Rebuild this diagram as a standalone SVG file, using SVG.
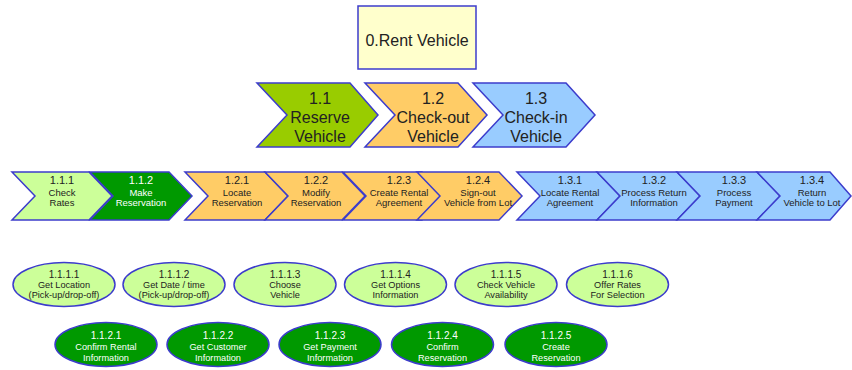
<svg xmlns="http://www.w3.org/2000/svg" width="852" height="370" viewBox="0 0 852 370">
<style>
.s{stroke:#3c3ccc;stroke-width:1.5;stroke-linejoin:miter}
.t{font-family:"Liberation Sans",Arial,sans-serif;text-anchor:middle;fill:#222}
.w{fill:#fff}
.l1{font-size:16px}
.n2{font-size:11px}
.a2{font-size:9.5px}
.n3{font-size:10px}
.a3{font-size:9.2px}
.gL{fill:#99cc00}.o{fill:#ffcc66}.b{fill:#99ccff}.lg{fill:#ccff99}.dg{fill:#009900}
</style>
<g id="n0">
<rect x="358" y="6" width="118" height="63" fill="#ffffcc" class="s"/>
<text class="t l1" x="417" y="46">0.Rent Vehicle</text>
</g>
<g id="n1_1">
<polygon class="s gL" points="257,83 350,83 378,115 350,147 257,147 287,115"/>
<text class="t l1" x="320" y="104">1.1</text><text class="t l1" x="320" y="122.5">Reserve</text><text class="t l1" x="320" y="141.5">Vehicle</text>
</g>
<g id="n1_2">
<polygon class="s o" points="365,83 458,83 487,115 458,147 365,147 395,115"/>
<text class="t l1" x="433" y="104">1.2</text><text class="t l1" x="433" y="122.5">Check-out</text><text class="t l1" x="433" y="141.5">Vehicle</text>
</g>
<g id="n1_3">
<polygon class="s b" points="473,83 566,83 595,115 566,147 473,147 503,115"/>
<text class="t l1" x="536" y="104">1.3</text><text class="t l1" x="536" y="122.5">Check-in</text><text class="t l1" x="536" y="141.5">Vehicle</text>
</g>
<g id="n1_1_1">
<polygon class="s lg" points="12,172 89,172 112,196 89,220 12,220 35,196"/>
<text class="t n2" x="62" y="184">1.1.1</text><text class="t a2" x="62" y="195.5">Check</text><text class="t a2" x="62" y="206">Rates</text>
</g>
<g id="n1_1_2">
<polygon class="s dg" points="90,172 169,172 192,196 169,220 90,220 113,196"/>
<text class="t w n2" x="141" y="184">1.1.2</text><text class="t w a2" x="141" y="195.5">Make</text><text class="t w a2" x="141" y="206">Reservation</text>
</g>
<g id="n1_2_1">
<polygon class="s o" points="185,172 265,172 288,196 265,220 185,220 208,196"/>
<text class="t n2" x="237" y="184">1.2.1</text><text class="t a2" x="237" y="195.5">Locate</text><text class="t a2" x="237" y="206">Reservation</text>
</g>
<g id="n1_2_2">
<polygon class="s o" points="265,172 342,172 365,196 342,220 265,220 288,196"/>
<text class="t n2" x="316" y="184">1.2.2</text><text class="t a2" x="316" y="195.5">Modify</text><text class="t a2" x="316" y="206">Reservation</text>
</g>
<g id="n1_2_3">
<polygon class="s o" points="343,172 422,172 445,196 422,220 343,220 366,196"/>
<text class="t n2" x="399" y="184">1.2.3</text><text class="t a2" x="399" y="195.5">Create Rental</text><text class="t a2" x="399" y="206">Agreement</text>
</g>
<g id="n1_2_4">
<polygon class="s o" points="417,172 499,172 522,196 499,220 417,220 440,196"/>
<text class="t n2" x="478" y="184">1.2.4</text><text class="t a2" x="478" y="195.5">Sign-out</text><text class="t a2" x="478" y="206">Vehicle from Lot</text>
</g>
<g id="n1_3_1">
<polygon class="s b" points="517,172 597,172 620,196 597,220 517,220 540,196"/>
<text class="t n2" x="570" y="184">1.3.1</text><text class="t a2" x="570" y="195.5">Locate Rental</text><text class="t a2" x="570" y="206">Agreement</text>
</g>
<g id="n1_3_2">
<polygon class="s b" points="597,172 677,172 700,196 677,220 597,220 620,196"/>
<text class="t n2" x="654" y="184">1.3.2</text><text class="t a2" x="654" y="195.5">Process Return</text><text class="t a2" x="654" y="206">Information</text>
</g>
<g id="n1_3_3">
<polygon class="s b" points="677,172 757,172 780,196 757,220 677,220 700,196"/>
<text class="t n2" x="734" y="184">1.3.3</text><text class="t a2" x="734" y="195.5">Process</text><text class="t a2" x="734" y="206">Payment</text>
</g>
<g id="n1_3_4">
<polygon class="s b" points="757,172 830,172 851,196 830,220 757,220 780,196"/>
<text class="t n2" x="812" y="184">1.3.4</text><text class="t a2" x="812" y="195.5">Return</text><text class="t a2" x="812" y="206">Vehicle to Lot</text>
</g>
<g id="n1_1_1_1">
<ellipse class="s lg" cx="64" cy="284.5" rx="51" ry="22"/>
<text class="t n3" x="64" y="277.5">1.1.1.1</text><text class="t a3" x="64" y="288">Get Location</text><text class="t a3" x="64" y="298">(Pick-up/drop-off)</text>
</g>
<g id="n1_1_1_2">
<ellipse class="s lg" cx="174" cy="284.5" rx="51" ry="22"/>
<text class="t n3" x="174" y="277.5">1.1.1.2</text><text class="t a3" x="174" y="288">Get Date / time</text><text class="t a3" x="174" y="298">(Pick-up/drop-off)</text>
</g>
<g id="n1_1_1_3">
<ellipse class="s lg" cx="285" cy="284.5" rx="51" ry="22"/>
<text class="t n3" x="285" y="277.5">1.1.1.3</text><text class="t a3" x="285" y="288">Choose</text><text class="t a3" x="285" y="298">Vehicle</text>
</g>
<g id="n1_1_1_4">
<ellipse class="s lg" cx="395.5" cy="284.5" rx="51" ry="22"/>
<text class="t n3" x="395.5" y="277.5">1.1.1.4</text><text class="t a3" x="395.5" y="288">Get Options</text><text class="t a3" x="395.5" y="298">Information</text>
</g>
<g id="n1_1_1_5">
<ellipse class="s lg" cx="506" cy="284.5" rx="51" ry="22"/>
<text class="t n3" x="506" y="277.5">1.1.1.5</text><text class="t a3" x="506" y="288">Check Vehicle</text><text class="t a3" x="506" y="298">Availability</text>
</g>
<g id="n1_1_1_6">
<ellipse class="s lg" cx="617.5" cy="284.5" rx="51" ry="22"/>
<text class="t n3" x="617.5" y="277.5">1.1.1.6</text><text class="t a3" x="617.5" y="288">Offer Rates</text><text class="t a3" x="617.5" y="298">For Selection</text>
</g>
<g id="n1_1_2_1">
<ellipse class="s dg" cx="106" cy="344.5" rx="51" ry="22"/>
<text class="t w n3" x="106" y="338.5">1.1.2.1</text><text class="t w a3" x="106" y="350">Confirm Rental</text><text class="t w a3" x="106" y="360.5">Information</text>
</g>
<g id="n1_1_2_2">
<ellipse class="s dg" cx="218" cy="344.5" rx="51" ry="22"/>
<text class="t w n3" x="218" y="338.5">1.1.2.2</text><text class="t w a3" x="218" y="350">Get Customer</text><text class="t w a3" x="218" y="360.5">Information</text>
</g>
<g id="n1_1_2_3">
<ellipse class="s dg" cx="330" cy="344.5" rx="51" ry="22"/>
<text class="t w n3" x="330" y="338.5">1.1.2.3</text><text class="t w a3" x="330" y="350">Get Payment</text><text class="t w a3" x="330" y="360.5">Information</text>
</g>
<g id="n1_1_2_4">
<ellipse class="s dg" cx="442.5" cy="344.5" rx="51" ry="22"/>
<text class="t w n3" x="442.5" y="338.5">1.1.2.4</text><text class="t w a3" x="442.5" y="350">Confirm</text><text class="t w a3" x="442.5" y="360.5">Reservation</text>
</g>
<g id="n1_1_2_5">
<ellipse class="s dg" cx="556" cy="344.5" rx="51" ry="22"/>
<text class="t w n3" x="556" y="338.5">1.1.2.5</text><text class="t w a3" x="556" y="350">Create</text><text class="t w a3" x="556" y="360.5">Reservation</text>
</g>
<g id="connectors"/>
</svg>
